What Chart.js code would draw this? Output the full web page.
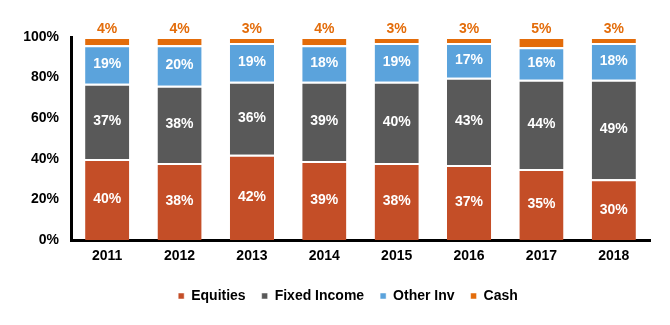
<!DOCTYPE html>
<html>
<head>
<meta charset="utf-8">
<script src="https://cdn.jsdelivr.net/npm/chart.js@4"></script>
<style>
  html, body { margin: 0; padding: 0; background: #fff; }
  #wrap { width: 670px; height: 325px; }
</style>
</head>
<body>
<div id="wrap"><canvas id="allocChart"></canvas></div>
<script>
const years = ["2011", "2012", "2013", "2014", "2015", "2016", "2017", "2018"];
const equities = [40, 38, 42, 39, 38, 37, 35, 30];
const fixedIncome = [37, 38, 36, 39, 40, 43, 44, 49];
const otherInv = [19, 20, 19, 18, 19, 17, 16, 18];
const cash = [4, 4, 3, 4, 3, 3, 5, 3];
const yTicks = [0, 20, 40, 60, 80, 100];

const FONT = "'Liberation Sans', Arial, sans-serif";

// draws the % labels: white inside segments, orange above the bar for cash
const segLabels = {
  id: "segLabels",
  afterDatasetsDraw(chart) {
    const ctx = chart.ctx;
    ctx.save();
    ctx.font = "bold 14px " + FONT;
    ctx.textAlign = "center";
    chart.data.datasets.forEach((ds, i) => {
      const meta = chart.getDatasetMeta(i);
      meta.data.forEach((bar, j) => {
        const txt = ds.data[j] + "%";
        if (ds.label === "Cash") {
          ctx.fillStyle = "#E36C0A";
          ctx.textBaseline = "bottom";
          ctx.fillText(txt, bar.x, bar.y - 1);
        } else {
          ctx.fillStyle = "#ffffff";
          ctx.textBaseline = "middle";
          ctx.fillText(txt, bar.x, (bar.y + bar.base) / 2);
        }
      });
    });
    ctx.restore();
  }
};

// legend sits a bit right of centre in the original
const legendShift = {
  id: "legendShift",
  afterLayout(chart) {
    chart.legend.left += 23;
    chart.legend.right += 23;
  }
};

const mk = (label, data, color) => ({
  label: label,
  data: data,
  backgroundColor: color,
  borderColor: "#ffffff",
  borderWidth: { top: 2, bottom: 0, left: 0, right: 0 },
  borderSkipped: false,
  categoryPercentage: 1,
  barPercentage: 0.61
});

new Chart(document.getElementById("allocChart"), {
  type: "bar",
  data: {
    labels: years,
    datasets: [
      mk("Equities", equities, "#C44E27"),
      mk("Fixed Income", fixedIncome, "#595959"),
      mk("Other Inv", otherInv, "#5BA3DC"),
      mk("Cash", cash, "#E36C0A")
    ]
  },
  options: {
    responsive: true,
    maintainAspectRatio: false,
    animation: false,
    layout: { padding: { top: 37, right: 20, left: 0, bottom: 12 } },
    scales: {
      x: {
        stacked: true,
        grid: { display: false, drawTicks: false },
        border: { display: true, color: "#000", width: 3 },
        ticks: { color: "#000", font: { family: FONT, size: 14, weight: "bold" }, padding: 8 }
      },
      y: {
        stacked: true,
        min: 0,
        max: 100,
        afterBuildTicks(axis) { axis.ticks = yTicks.map(v => ({ value: v })); },
        afterFit(axis) { axis.width = 71; },
        grid: { display: false, drawTicks: false },
        border: { display: true, color: "#000", width: 3 },
        ticks: {
          color: "#000",
          padding: 12,
          font: { family: FONT, size: 14, weight: "bold" },
          callback: v => v + "%"
        }
      }
    },
    plugins: {
      legend: {
        position: "bottom",
        labels: {
          color: "#000",
          boxWidth: 6,
          boxHeight: 6,
          padding: 16,
          font: { family: FONT, size: 14, weight: "bold" }
        }
      },
      tooltip: { enabled: false }
    }
  },
  plugins: [segLabels, legendShift]
});
</script>
</body>
</html>
